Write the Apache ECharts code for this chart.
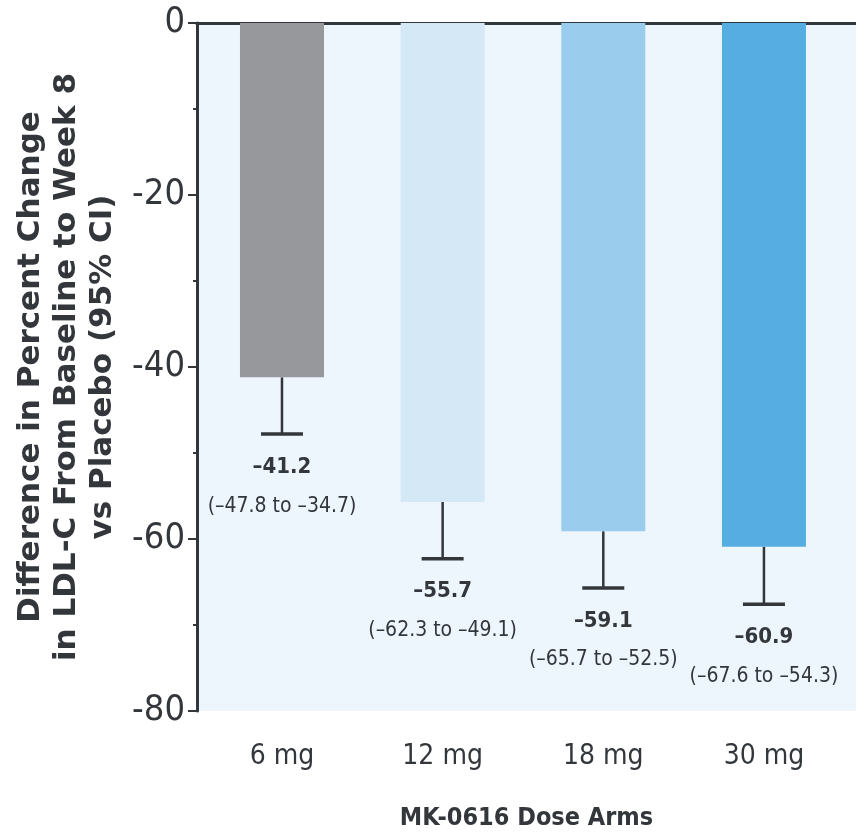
<!DOCTYPE html>
<html>
<head>
<meta charset="utf-8">
<script src="https://cdn.jsdelivr.net/npm/echarts@6/dist/echarts.min.js"></script>
<style>
  html, body { margin: 0; padding: 0; background: #fff; }
  #chart { width: 856px; height: 840px; }
</style>
</head>
<body>
<div id="chart"></div>
<script>
// values
const categories = ['6 mg', '12 mg', '18 mg', '30 mg']
const positions = [1, 2, 3, 4]
const diffs = [-41.2, -55.7, -59.1, -60.9]
const ciLow = [-47.8, -62.3, -65.7, -67.6]
const ciHigh = [-34.7, -49.1, -52.5, -54.3]
const barColors = ['#97989c', '#d4e8f6', '#99cced', '#56ade2']

const ink = '#33373c'
const narrow = "'DejaVu Sans Condensed', 'Liberation Sans Narrow', sans-serif"
const dash = '\u2013'

const chart = echarts.init(document.getElementById('chart'))

const xBase = {
  type: 'value',
  min: 0.471,
  max: 4.573,
  splitLine: { show: false }
}

chart.setOption({
  animation: false,
  grid: {
    left: 197,
    right: 0,
    top: 23,
    bottom: 129,
    show: true,
    borderWidth: 0,
    backgroundColor: '#edf5fd'
  },
  xAxis: [
    Object.assign({}, xBase, {
      position: 'bottom',
      name: 'MK-0616 Dose Arms',
      nameLocation: 'middle',
      nameGap: 95,
      nameTextStyle: { color: ink, fontFamily: narrow, fontWeight: 'bold', fontSize: 25 },
      axisLine: { show: true, lineStyle: { color: ink, width: 3 } },
      axisTick: { show: true, length: 13, lineStyle: { color: ink, width: 2 }, customValues: positions },
      axisLabel: {
        customValues: positions,
        formatter: v => categories[positions.indexOf(v)],
        color: ink,
        fontFamily: narrow,
        fontSize: 28,
        margin: 32
      }
    }),
    Object.assign({}, xBase, {
      position: 'top',
      axisLine: { show: true, onZero: false, lineStyle: { color: ink, width: 3 } },
      axisTick: { show: false },
      axisLabel: { show: false }
    })
  ],
  yAxis: {
    type: 'value',
    min: -80,
    max: 0,
    interval: 20,
    name: 'Difference in Percent Change\nin LDL-C From Baseline to Week 8\nvs Placebo (95% CI)',
    nameLocation: 'middle',
    nameRotate: 90,
    nameGap: 53,
    nameTextStyle: {
      color: ink,
      fontFamily: "'DejaVu Sans', sans-serif",
      fontWeight: 'bold',
      fontSize: 31,
      lineHeight: 36,
      align: 'center'
    },
    axisLine: { show: true, lineStyle: { color: ink, width: 3 } },
    axisTick: { show: true, length: 9, lineStyle: { color: ink, width: 2 } },
    minorTick: { show: true, splitNumber: 2, length: 4, lineStyle: { color: ink, width: 2 } },
    splitLine: { show: false },
    axisLabel: { color: ink, fontFamily: narrow, fontSize: 36, margin: 12 }
  },
  series: [
    {
      type: 'bar',
      barWidth: 84,
      data: positions.map((p, i) => ({ value: [p, diffs[i]], itemStyle: { color: barColors[i] } }))
    },
    {
      type: 'custom',
      data: positions.map((p, i) => [p, diffs[i], ciLow[i], i]),
      renderItem: function (params, api) {
        const i = api.value(3)
        const top = api.coord([api.value(0), api.value(1)])
        const low = api.coord([api.value(0), api.value(2)])
        return {
          type: 'group',
          children: [
            { type: 'line', shape: { x1: top[0], y1: top[1], x2: low[0], y2: low[1] }, style: { stroke: ink, lineWidth: 2.5 } },
            { type: 'line', shape: { x1: low[0] - 21, y1: low[1], x2: low[0] + 21, y2: low[1] }, style: { stroke: ink, lineWidth: 3.5 } },
            {
              type: 'text', x: low[0], y: low[1] + 33,
              style: { text: dash + Math.abs(diffs[i]).toFixed(1), fill: ink, fontFamily: narrow, fontWeight: 'bold', fontSize: 22, align: 'center', verticalAlign: 'middle' }
            },
            {
              type: 'text', x: low[0], y: low[1] + 72,
              style: {
                text: '(' + dash + Math.abs(ciLow[i]).toFixed(1) + ' to ' + dash + Math.abs(ciHigh[i]).toFixed(1) + ')',
                fill: ink, fontFamily: narrow, fontSize: 21, align: 'center', verticalAlign: 'middle'
              }
            }
          ]
        }
      }
    }
  ]
})
</script>
</body>
</html>
